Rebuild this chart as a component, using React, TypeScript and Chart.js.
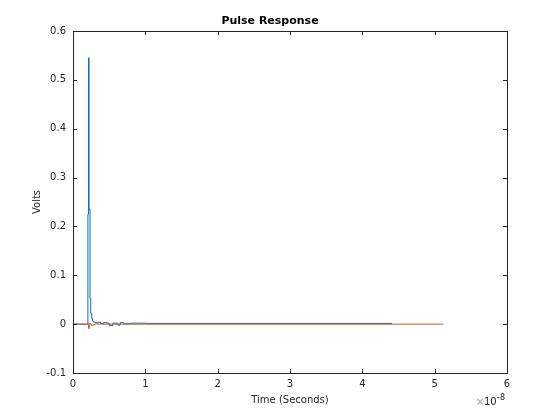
import React, { useEffect, useRef } from "react";
import { Chart, registerables } from "chart.js";

Chart.register(...registerables);

// Time values in seconds
const blueTime = [
  0, 0.205e-8, 0.206e-8, 0.215e-8, 0.222e-8, 0.235e-8, 0.245e-8, 0.258e-8,
  0.27e-8, 0.285e-8, 0.31e-8, 0.35e-8, 0.38e-8, 0.42e-8, 0.47e-8, 0.5e-8,
  0.55e-8, 0.62e-8, 0.65e-8, 0.7e-8, 0.8e-8, 1.0e-8, 4.41e-8,
];
const blueVolts = [
  0, 0, 0.225, 0.545, 0.235, 0.053, 0.022, 0.012,
  0.006, 0.004, 0.003, 0.004, 0.001, 0.003, 0.002, -0.003,
  0.002, -0.002, 0.003, 0.001, 0.002, 0.0015, 0.0015,
];
const orangeTime = [0, 0.205e-8, 0.215e-8, 0.225e-8, 0.25e-8, 0.3e-8, 0.4e-8, 5.12e-8];
const orangeVolts = [0, 0, -0.009, 0.001, -0.002, 0.0005, 0, 0];

const xTickValues = [0, 1, 2, 3, 4, 5, 6]; // ×1e-8
const yTickValues = [-0.1, 0, 0.1, 0.2, 0.3, 0.4, 0.5, 0.6];

const titleText = "Pulse Response";
const xLabel = "Time (Seconds)";
const yLabel = "Volts";

const FONT = "DejaVu Sans";
const AXIS_COLOR = "#262626";

const matlabAxes = {
  id: "matlabAxes",
  afterDraw(chart: any) {
    const { ctx, chartArea } = chart;
    const { left, right, top, bottom } = chartArea;
    const xs = chart.scales.x;
    const ys = chart.scales.y;
    ctx.save();
    ctx.strokeStyle = AXIS_COLOR;
    ctx.lineWidth = 1;
    ctx.strokeRect(left + 0.5, top + 0.5, right - left, bottom - top);
    const tl = 4;
    ctx.beginPath();
    xs.ticks.forEach((t: any) => {
      const px = Math.round(xs.getPixelForValue(t.value)) + 0.5;
      ctx.moveTo(px, bottom);
      ctx.lineTo(px, bottom - tl);
      ctx.moveTo(px, top);
      ctx.lineTo(px, top + tl);
    });
    ys.ticks.forEach((t: any) => {
      const py = Math.round(ys.getPixelForValue(t.value)) + 0.5;
      ctx.moveTo(left, py);
      ctx.lineTo(left + tl, py);
      ctx.moveTo(right, py);
      ctx.lineTo(right - tl, py);
    });
    ctx.stroke();

    // exponent label ×10^-8
    ctx.textBaseline = "alphabetic";
    ctx.textAlign = "left";
    ctx.font = `10px ${FONT}`;
    ctx.fillStyle = "#9a9a9a";
    ctx.fillText("×", 476, 405);
    ctx.fillStyle = AXIS_COLOR;
    ctx.fillText("10", 484, 405);
    ctx.font = `8px ${FONT}`;
    ctx.fillText("-8", 497, 400);
    ctx.restore();
  },
};

export default function App() {
  const ref = useRef<HTMLCanvasElement | null>(null);
  useEffect(() => {
    if (!ref.current) return;
    const chart = new Chart(ref.current, {
      type: "line",
      data: {
        datasets: [
          {
            label: "orange",
            data: orangeTime.map((t, i) => ({ x: t, y: orangeVolts[i] })),
            borderColor: "#D95319",
            borderWidth: 1,
            pointRadius: 0,
            stepped: true,
            fill: false,
          },
          {
            label: "blue",
            data: blueTime.map((t, i) => ({ x: t, y: blueVolts[i] })),
            borderColor: "#0072BD",
            borderWidth: 1,
            pointRadius: 0,
            stepped: true,
            fill: false,
          },
        ],
      },
      options: {
        animation: false,
        responsive: false,
        layout: { padding: { left: 0, top: 0, right: 20, bottom: 0 } },
        plugins: {
          legend: { display: false },
          tooltip: { enabled: false },
          title: {
            display: true,
            text: titleText,
            color: "#000",
            font: { family: FONT, size: 11, weight: "bold" },
            padding: { top: 15, bottom: 2.8 },
          },
        },
        scales: {
          x: {
            type: "linear",
            min: 0,
            max: 6e-8,
            afterBuildTicks: (s: any) => {
              s.ticks = xTickValues.map((v) => ({ value: v * 1e-8 }));
            },
            afterFit: (s: any) => {
              s.height = 47;
            },
            grid: { display: false, drawTicks: false },
            border: { display: false },
            ticks: {
              color: AXIS_COLOR,
              font: { family: FONT, size: 10 },
              padding: 5,
              maxRotation: 0,
              autoSkip: false,
              callback: (v: any) => String(Math.round((v as number) / 1e-8 * 100) / 100),
            },
            title: {
              display: true,
              text: xLabel,
              color: AXIS_COLOR,
              font: { family: FONT, size: 10 },
              padding: { top: 0, bottom: 14 },
            },
          },
          y: {
            type: "linear",
            min: -0.1,
            max: 0.6,
            afterBuildTicks: (s: any) => {
              s.ticks = yTickValues.map((v) => ({ value: v }));
            },
            afterFit: (s: any) => {
              s.width = 73;
            },
            grid: { display: false, drawTicks: false },
            border: { display: false },
            ticks: {
              color: AXIS_COLOR,
              font: { family: FONT, size: 10 },
              padding: 7,
              autoSkip: false,
              callback: (v: any) => {
                const n = Math.round((v as number) * 10) / 10;
                return n === 0 ? "0" : n.toFixed(1);
              },
            },
            title: {
              display: true,
              text: yLabel,
              color: AXIS_COLOR,
              font: { family: FONT, size: 10 },
              padding: { top: 31.5, bottom: 0 },
            },
          },
          y2: {
            type: "linear",
            position: "right",
            display: true,
            afterFit: (s: any) => {
              s.width = 33;
            },
            grid: { display: false, drawTicks: false },
            border: { display: false },
            ticks: { display: false },
          },
        },
      },
      plugins: [matlabAxes],
    });
    return () => chart.destroy();
  }, []);
  return (
    <div style={{ position: "absolute", left: 0, top: 0, width: 560, height: 420, background: "#fff" }}>
      <canvas ref={ref} width={560} height={420} style={{ display: "block" }} />
    </div>
  );
}
